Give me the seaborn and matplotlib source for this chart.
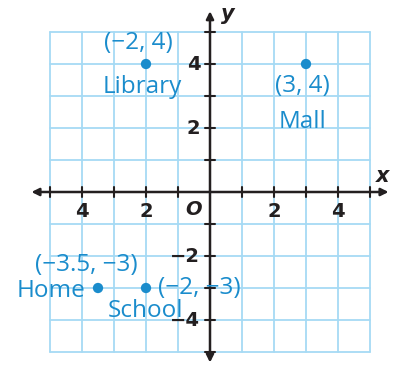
import numpy as np
import pandas as pd
import seaborn as sns
import matplotlib.pyplot as plt

# places on the coordinate plane
places = ['Library', 'Mall', 'Home', 'School']
px = [-2, 3, -3.5, -2]
py = [4, 4, -3, -3]
coord_labels = ['(\u22122, 4)', '(3, 4)', '(\u22123.5, \u22123)', '(\u22122, \u22123)']

x_ticks = [-4, -2, 2, 4]
x_tick_labels = ['4', '2', '2', '4']
y_ticks = [4, 2, -2, -4]
y_tick_labels = ['4', '2', '\u22122', '\u22124']

grid_vals = np.arange(-5, 6)

blue = '#1a8ccc'
grid_blue = '#a6daf4'
ink = '#231f20'

sns.set_style('white')
plt.rcParams['font.family'] = ['Open Sans', 'DejaVu Sans']

fig = plt.figure(figsize=(3.94, 3.66), dpi=100)
ax = fig.add_axes([0, 0, 1, 1])
ax.axis('off')

# grid
for g in grid_vals:
    ax.plot([g, g], [-5, 5], color=grid_blue, lw=1.3, zorder=1)
    ax.plot([-5, 5], [g, g], color=grid_blue, lw=1.3, zorder=1)

# axes with arrows
arr = dict(arrowstyle='<|-|>', color=ink, lw=1.8, mutation_scale=11, shrinkA=0, shrinkB=0)
ax.annotate('', xy=(5.58, 0), xytext=(-5.58, 0), arrowprops=arr, zorder=3)
ax.annotate('', xy=(0, 5.65), xytext=(0, -5.33), arrowprops=arr, zorder=3)
for g in grid_vals:
    if g == 0:
        continue
    ax.plot([g, g], [-0.16, 0.16], color=ink, lw=1.5, zorder=3)
    ax.plot([-0.16, 0.16], [g, g], color=ink, lw=1.5, zorder=3)

# tick labels
for t, lab in zip(x_ticks, x_tick_labels):
    ax.text(t, -0.62, lab, ha='center', va='center', fontsize=14, fontweight='bold',
            color=ink, family='DejaVu Sans')
for t, lab in zip(y_ticks, y_tick_labels):
    ax.text(-0.3, t, lab, ha='right', va='center', fontsize=14, fontweight='bold',
            color=ink, family='DejaVu Sans')
ax.text(-0.52, -0.55, 'O', ha='center', va='center', fontsize=14, fontweight='bold',
        style='italic', color=ink, family='DejaVu Sans')
ax.text(5.4, 0.5, 'x', ha='center', va='center', fontsize=15, fontweight='bold',
        style='italic', color=ink, family='DejaVu Sans')
ax.text(0.55, 5.55, 'y', ha='center', va='center', fontsize=15, fontweight='bold',
        style='italic', color=ink, family='DejaVu Sans')

# points
df = pd.DataFrame({'x': px, 'y': py, 'place': places})
sns.scatterplot(data=df, x='x', y='y', color=blue, s=55, edgecolor='none', ax=ax, zorder=4)
ax.set_xlim(-210 / 32, 184 / 32)
ax.set_ylim(-174 / 32, 192 / 32)

fs = 17.5
kw = dict(fontsize=fs, color=blue, va='baseline')
# Library
ax.text(px[0] - 0.25, py[0] + 0.47, coord_labels[0], ha='center', **kw)
ax.text(px[0] - 0.12, py[0] - 0.91, places[0], ha='center', **kw)
# Mall
ax.text(px[1] - 0.12, py[1] - 0.87, coord_labels[1], ha='center', **kw)
ax.text(px[1] - 0.1, py[1] - 2.0, places[1], ha='center', **kw)
# Home
ax.text(px[2] - 0.37, py[2] + 0.53, coord_labels[2], ha='center', **kw)
ax.text(px[2] - 0.4, py[2] - 0.27, places[2], ha='right', **kw)
# School
ax.text(px[3] + 0.37, py[3] - 0.2, coord_labels[3], ha='left', **kw)
ax.text(px[3], py[3] - 0.9, places[3], ha='center', **kw)

fig.savefig('out.png', dpi=100)
